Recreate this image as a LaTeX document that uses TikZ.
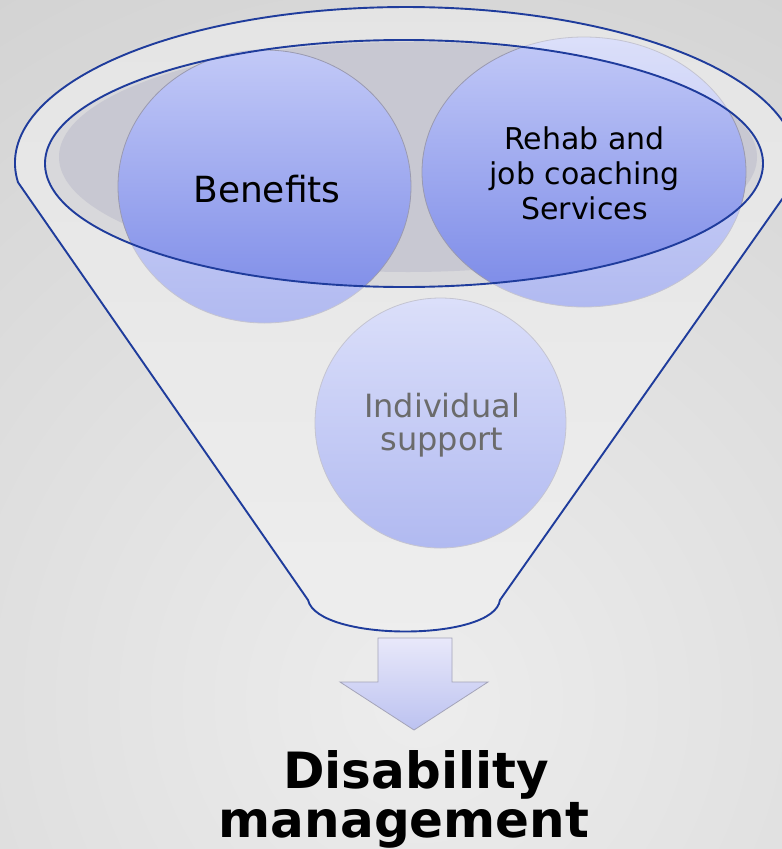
\documentclass[tikz,border=0pt]{standalone}
\usepackage{fontspec}
\setmainfont{DejaVu Sans}
\usetikzlibrary{shapes.geometric}
\definecolor{bginner}{HTML}{EDEDED}
\definecolor{bgouter}{HTML}{C4C4C4}
\definecolor{funtop}{HTML}{D2D2D2}
\definecolor{funbot}{HTML}{E2E2E2}
\definecolor{rimline}{HTML}{1F3C9C}
\definecolor{bowlrim}{HTML}{D8D8DB}
\definecolor{bowlin}{HTML}{C8C8D2}
\definecolor{bubbletop}{HTML}{C2C9F7}
\definecolor{bubblebottom}{HTML}{7988E7}
\definecolor{bubbleedge}{HTML}{9A9AB0}
\definecolor{arrowtop}{HTML}{E8E8FA}
\definecolor{arrowbottom}{HTML}{BCC2F0}
\definecolor{arrowedge}{HTML}{A4A4B8}
\begin{document}
\begin{tikzpicture}[x=1pt,y=-1pt,
  funnelpath/.style={insert path={(18,182.3) arc[start angle=172.9, end angle=367.1, x radius=391, y radius=156]
      -- (500,600) .. controls (494,642) and (318,642) .. (308,600) -- cycle}},
  rimpath/.style={insert path={(404,163.5) ellipse [x radius=359, y radius=123.5]}},
  bubble/.style={ellipse, draw=bubbleedge, line width=0.8pt, top color=bubbletop,
      bottom color=bubblebottom, inner sep=0pt},
  outline/.style={draw=rimline, line width=1.9pt},
  txt/.style={anchor=base, inner sep=0pt, text=black},
  bodyfont/.style={font=\fontsize{30}{35}\selectfont},
  bigfont/.style={font=\fontsize{36}{40}\selectfont},
  midfont/.style={font=\fontsize{32}{34}\selectfont},
  titlefont/.style={font=\bfseries\fontsize{50}{44}\selectfont}]
\useasboundingbox (0,0) rectangle (782,849);

% backdrop
\begin{scope}
  \clip (0,0) rectangle (782,849);
  \fill[bgouter] (0,0) rectangle (782,849);
  \shade[inner color=bginner, outer color=bgouter] (420,700) circle (1300);
\end{scope}

% funnel body and bowl
\path[top color=funtop, bottom color=funbot, funnelpath];
\fill[bowlrim, rimpath];
\fill[bowlin] (408,157) ellipse [x radius=349, y radius=115];

% bubbles
\node[bubble, minimum width=293, minimum height=273] (benefits) at (264.5,186.5) {};
\node[bubble, minimum width=324, minimum height=270] (rehab) at (584,172) {};
\node[bubble, minimum width=251, minimum height=250] (individual) at (440.5,423) {};

% bubble texts
\node[txt, bigfont] (benefits-t) at (267,202) {Benefits};
\node[txt, bodyfont] (rehab-t1) at (584.5,149) {Rehab and};
\node[txt, bodyfont] (rehab-t2) at (584.5,184) {job coaching};
\node[txt, bodyfont] (rehab-t3) at (584.5,219) {Services};
\node[txt, midfont] (indiv-t1) at (442,417) {Individual};
\node[txt, midfont] (indiv-t2) at (442,450) {support};

% translucent funnel wall over everything outside the bowl
\fill[white, opacity=0.42, even odd rule, funnelpath, rimpath];

% outlines
\draw[outline, funnelpath];
\draw[outline, rimpath];

% down arrow
\draw[arrowedge, line width=0.8pt, top color=arrowtop, bottom color=arrowbottom]
  (378,638) -- (452,638) -- (452,682) -- (488,682) -- (414,730) -- (340,682) -- (378,682) -- cycle;

% result
\node[txt, titlefont] (dis-t1) at (416,788) {Disability};
\node[txt, titlefont] (dis-t2) at (404,837) {management};
\end{tikzpicture}
\end{document}
